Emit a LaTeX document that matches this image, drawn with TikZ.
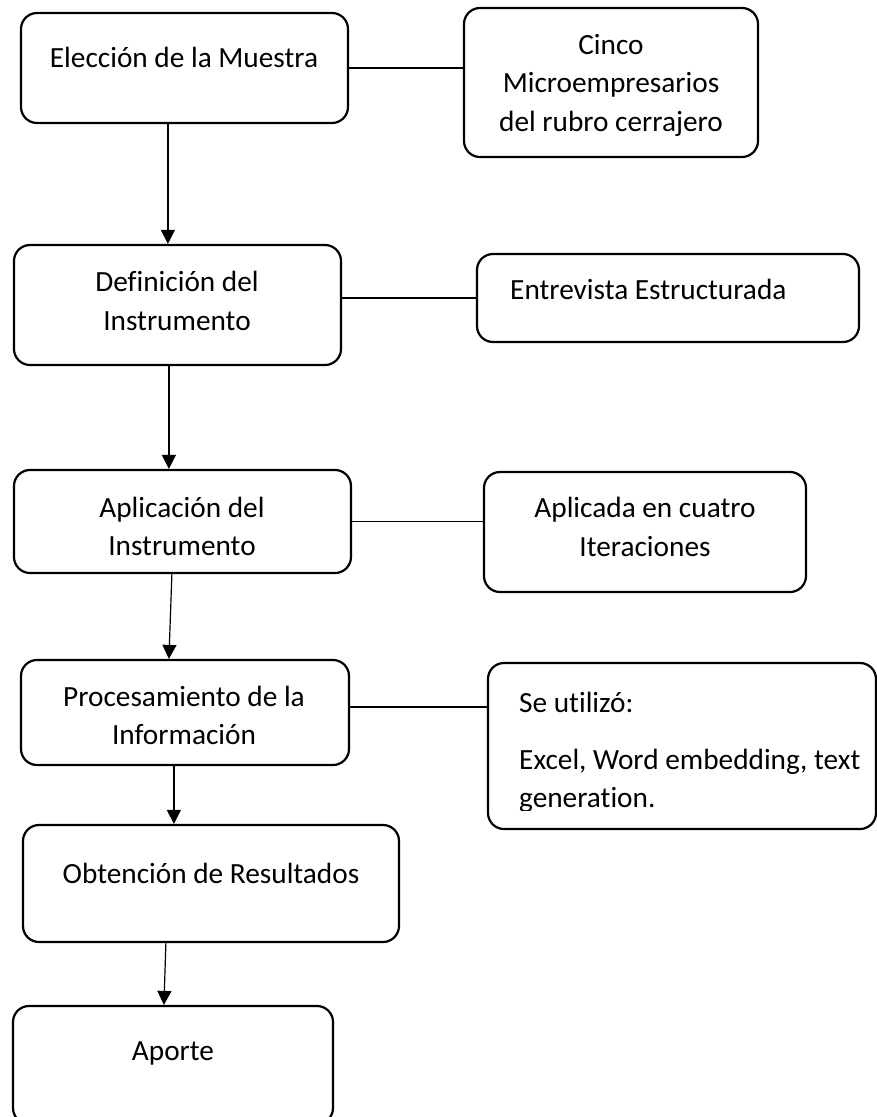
\documentclass[tikz,border=0pt]{standalone}
\usepackage{fontspec}
\setmainfont{Carlito}[Ligatures=NoCommon]
\usetikzlibrary{arrows.meta}
\begin{document}
\begin{tikzpicture}[x=1pt,y=-1pt,
  box/.style={draw, rounded corners=16pt, line width=2.2pt, inner sep=0pt},
  lbl/.style={inner sep=0pt, align=center, font=\fontsize{29.3pt}{38.5pt}\selectfont},
  link/.style={line width=1.2pt},
  flow/.style={line width=1.2pt, -{Triangle[width=14pt,length=14pt]}}]
\useasboundingbox (0,0) rectangle (877,1117);
\clip (0,0) rectangle (877,1117);
\fill[white] (0,0) rectangle (877,1117);
% boxes
\node[box, minimum width=327pt, minimum height=110pt] (b1) at (184.5,68) {};
\node[box, minimum width=294pt, minimum height=149pt] (b2) at (611,82.5) {};
\node[box, minimum width=327pt, minimum height=120pt] (b3) at (177.5,305) {};
\node[box, minimum width=382pt, minimum height=88pt] (b4) at (668,298) {};
\node[box, minimum width=337pt, minimum height=103pt] (b5) at (182.5,521.5) {};
\node[box, minimum width=322pt, minimum height=120pt] (b6) at (645,532) {};
\node[box, minimum width=328pt, minimum height=105pt] (b7) at (185,712.5) {};
\node[box, minimum width=388pt, minimum height=166pt] (b8) at (682,746) {};
\node[box, minimum width=376pt, minimum height=117pt] (b9) at (211,883.5) {};
\node[box, minimum width=320pt, minimum height=118pt] (b10) at (173,1065) {};
% texts
\node[lbl] (t1) at (184,57) {Elección de la Muestra};
\node[lbl] (t2) at (611,85) {Cinco\\Microempresarios\\del rubro cerrajero};
\node[lbl] (t3) at (177,301) {Definición del\\Instrumento};
\node[lbl, anchor=west] (t4) at (510,289.5) {Entrevista Estructurada};
\node[lbl] (t5) at (182,526.5) {Aplicación del\\Instrumento};
\node[lbl] (t6) at (645,527) {Aplicada en cuatro\\Iteraciones};
\node[lbl] (t7) at (184,715.5) {Procesamiento de la\\Información};
\node[lbl, anchor=west] (t8a) at (519,702) {Se utilizó:};
\begin{scope}
\clip (488,663) rectangle (876,810);
\node[lbl, align=left, anchor=west] (t8b) at (519,781) {Excel, Word embedding, text\\generation.};
\end{scope}
\node[lbl] (t9) at (211,873) {Obtención de Resultados};
\node[lbl] (t10) at (173,1053) {Aporte};
% side links
\draw[link] (b1.east) -- (b1.east -| b2.west);
\draw[link] (b4.west -| b3.east) -- (b4.west);
\draw[link] (b5.east) -- (b5.east -| b6.west);
\draw[link] ([yshift=5.5pt]b7.east) -- ([yshift=5.5pt]b7.east -| b8.west);
% flow arrows
\draw[flow] ([xshift=148pt]b1.south west) -- ([xshift=155pt]b3.north west);
\draw[flow] ([xshift=156pt]b3.south west) -- ([xshift=156pt]b5.north west);
\draw[flow] ([xshift=159pt]b5.south west) -- ([xshift=149pt]b7.north west);
\draw[flow] ([xshift=154pt]b7.south west) -- ([xshift=152pt]b9.north west);
\draw[flow] ([xshift=144pt]b9.south west) -- ([xshift=152pt]b10.north west);
\end{tikzpicture}
\end{document}
